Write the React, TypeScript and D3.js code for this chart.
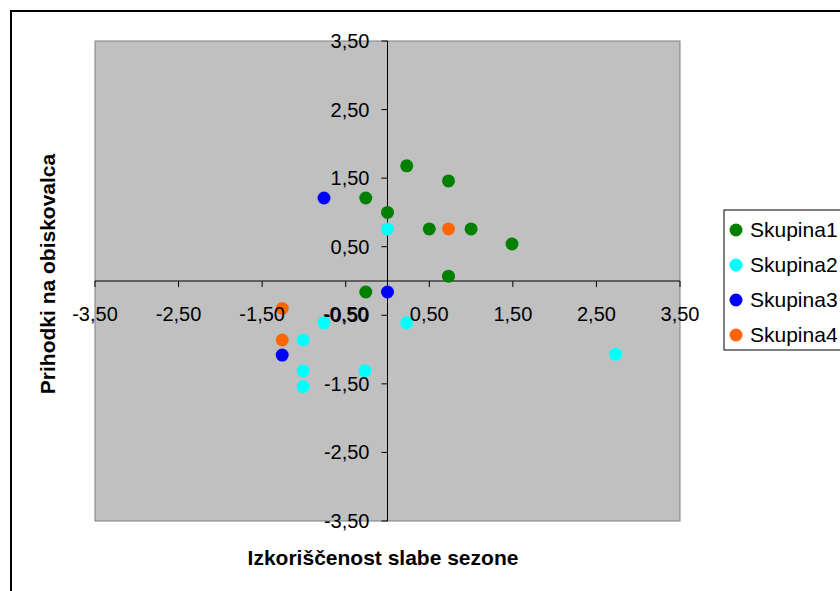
import React from "react";
import * as d3 from "d3";

const seriesNames = ["Skupina1", "Skupina2", "Skupina3", "Skupina4"];
const seriesColors = ["#008000", "#00FFFF", "#0000FF", "#FF6600"];

const skupina1X = [0.23, 0.73, -0.26, 0.0, 0.5, 1.0, 1.49, 0.73, -0.26];
const skupina1Y = [1.68, 1.46, 1.21, 1.0, 0.76, 0.76, 0.54, 0.07, -0.16];
const skupina2X = [0.0, -0.76, 0.23, -1.01, -1.01, -0.27, -1.01, 2.73];
const skupina2Y = [0.76, -0.61, -0.61, -0.86, -1.31, -1.31, -1.54, -1.07];
const skupina3X = [-0.76, 0.0, -1.26];
const skupina3Y = [1.21, -0.16, -1.08];
const skupina4X = [0.73, -1.26, -1.26];
const skupina4Y = [0.76, -0.4, -0.86];

const tickValues = [-3.5, -2.5, -1.5, -0.5, 0.5, 1.5, 2.5, 3.5];
const xTitle = "Izkoriščenost slabe sezone";
const yTitle = "Prihodki na obiskovalca";

const locale = d3.formatLocale({ decimal: ",", thousands: ".", grouping: [3], currency: ["", "€"], minus: "-" });
const fmt = locale.format(".2f");

export default function App() {
  const x = d3.scaleLinear().domain([-3.5, 3.5]).range([95, 680]);
  const y = d3.scaleLinear().domain([-3.5, 3.5]).range([521, 41]);
  const x0 = x(0);
  const y0 = y(0);
  const series = [
    { xs: skupina1X, ys: skupina1Y },
    { xs: skupina2X, ys: skupina2Y },
    { xs: skupina3X, ys: skupina3Y },
    { xs: skupina4X, ys: skupina4Y },
  ];
  const font = "'Liberation Sans', Arial, sans-serif";
  return (
    <svg width={840} height={591} style={{ position: "absolute", left: 0, top: 0 }} fontFamily={font}>
      <rect x={0} y={0} width={840} height={591} fill="#fff" />
      <rect x={11} y={11} width={900} height={700} fill="#fff" stroke="#000" strokeWidth={2} />
      <rect x={x(-3.5)} y={y(3.5)} width={x(3.5) - x(-3.5)} height={y(-3.5) - y(3.5)} fill="#C0C0C0" stroke="#808080" strokeWidth={1} />
      {/* axes */}
      <line x1={x(-3.5)} x2={x(3.5)} y1={y0} y2={y0} stroke="#000" strokeWidth={1} />
      <line x1={x0} x2={x0} y1={y(3.5)} y2={y(-3.5)} stroke="#000" strokeWidth={1} />
      {tickValues.map((t) => (
        <line key={"xt" + t} x1={x(t)} x2={x(t)} y1={y0} y2={y0 + 6} stroke="#000" />
      ))}
      {tickValues.map((t) => (
        <line key={"yt" + t} x1={x0 - 6} x2={x0} y1={y(t)} y2={y(t)} stroke="#000" />
      ))}
      {/* points */}
      {series.map((s, si) =>
        s.xs.map((v, i) => (
          <circle key={si + "-" + i} cx={x(v)} cy={y(s.ys[i])} r={6.5} fill={seriesColors[si]} />
        ))
      )}
      {/* tick labels */}
      {tickValues.map((t) => (
        <text key={"xl" + t} x={x(t)} y={y0 + 40} textAnchor="middle" fontSize={20} fill="#000">
          {fmt(t)}
        </text>
      ))}
      {tickValues.map((t) => (
        <text key={"yl" + t} x={x0 - 18} y={y(t) + 7} textAnchor="end" fontSize={20} fill="#000">
          {fmt(t)}
        </text>
      ))}
      {/* titles */}
      <text x={383} y={565} textAnchor="middle" fontSize={21} fontWeight="bold" fill="#000">
        {xTitle}
      </text>
      <text transform={`translate(55,274) rotate(-90)`} textAnchor="middle" fontSize={21} fontWeight="bold" fill="#000">
        {yTitle}
      </text>
      {/* legend */}
      <rect x={724} y={210} width={200} height={140} fill="#fff" stroke="#000" strokeWidth={1} />
      {seriesNames.map((n, i) => (
        <g key={n}>
          <circle cx={736} cy={230 + i * 35} r={6.5} fill={seriesColors[i]} />
          <text x={750} y={237 + i * 35} fontSize={21} fill="#000">
            {n}
          </text>
        </g>
      ))}
    </svg>
  );
}
